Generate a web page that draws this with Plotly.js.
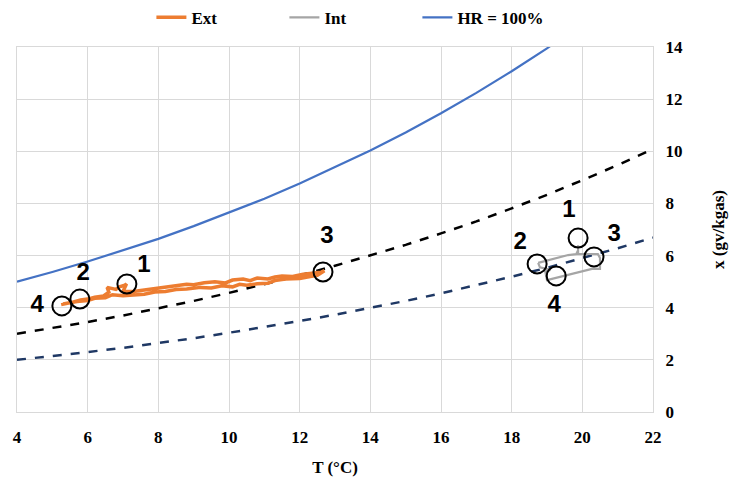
<!DOCTYPE html>
<html>
<head>
<meta charset="utf-8">
<script src="https://cdn.plot.ly/plotly-3.0.1.min.js"></script>
<style>html,body{margin:0;padding:0;background:#fff}#chart{width:734px;height:481px}</style>
</head>
<body>
<div id="chart"></div>
<script>
// Curves (temperature in °C, humidity ratio in g/kg)
const T_CURVE = [4,5,6,7,8,9,10,11,12,13,14,15,16,17,18,19,20,21,22];
const HR100 = [5.00,5.37,5.77,6.19,6.64,7.13,7.64,8.18,8.76,9.38,10.03,10.72,11.46,12.24,13.07,13.95,14.88,15.86,16.90];
const HR60  = [3.00,3.22,3.45,3.70,3.97,4.26,4.57,4.90,5.24,5.61,6.00,6.41,6.85,7.31,7.81,8.33,8.89,9.47,10.09];
const HR40  = [2.00,2.14,2.30,2.46,2.64,2.83,3.04,3.26,3.49,3.73,3.99,4.26,4.55,4.86,5.19,5.53,5.90,6.28,6.69];

// Exterior conditions path
const EXT_T = [5.25,5.45,5.6,5.8,6.0,6.2,6.45,6.6,6.55,6.8,6.9,7.05,7.1,7.0,7.3,7.5,7.7,7.9,8.2,8.5,8.8,9.0,9.3,9.6,9.9,10.1,10.4,10.6,10.8,11.1,11.3,11.5,11.8,12.1,12.4,12.6,12.7,12.5,12.3,12.0,11.6,11.3,11.1,10.8,10.5,10.3,10.1,9.8,9.5,9.2,8.8,8.5,8.2,7.9,7.6,7.3,7.0,6.7,6.5,6.2,6.0,5.7,5.5,5.3];
const EXT_X = [4.12,4.16,4.22,4.30,4.33,4.40,4.45,4.60,4.78,4.70,4.80,4.86,4.92,4.62,4.62,4.66,4.70,4.74,4.80,4.84,4.90,4.88,4.96,5.00,4.95,5.06,5.10,5.04,5.14,5.10,5.18,5.22,5.20,5.28,5.34,5.36,5.42,5.24,5.20,5.12,5.10,5.04,4.94,4.92,4.86,4.90,4.80,4.84,4.76,4.78,4.72,4.70,4.62,4.60,4.52,4.50,4.46,4.50,4.38,4.36,4.28,4.24,4.20,4.14];

// Interior conditions path
const INT_T = [18.75,19.20,19.60,19.83,19.88,19.88,19.88,20.20,20.44,20.50,20.50,20.30,19.80,19.23,19.00,18.95,19.10,18.80,18.75];
const INT_X = [5.72,5.88,6.02,6.06,6.21,6.40,6.06,6.06,6.06,5.91,5.49,5.50,5.34,5.14,5.06,5.40,5.45,5.55,5.72];

// Marked points 1..4
const PT_LABELS = ["1","2","3","4"];
const EXT_PT_T = [7.11,5.78,12.66,5.27];
const EXT_PT_X = [4.91,4.33,5.37,4.07];
const EXT_LBL_T = [7.59,5.87,12.77,4.57];
const EXT_LBL_X = [5.60,5.30,6.70,4.07];
const INT_PT_T = [19.88,18.72,20.33,19.26];
const INT_PT_X = [6.67,5.68,5.95,5.22];
const INT_LBL_T = [19.62,18.24,20.90,19.20];
const INT_LBL_X = [7.70,6.50,6.78,4.06];

const serif = {family:"Liberation Serif, Times New Roman, serif", size:17, color:"#000", weight:"bold"};
const labelFont = {family:"Liberation Sans, Arial, sans-serif", size:24, color:"#000", weight:"bold"};

const traces = [
  {x:T_CURVE, y:HR60, mode:"lines", line:{color:"#000000", width:2.5, dash:"dash"}, showlegend:false, hoverinfo:"skip"},
  {x:T_CURVE, y:HR40, mode:"lines", line:{color:"#1F3864", width:2.5, dash:"dash"}, showlegend:false, hoverinfo:"skip"},
  {x:EXT_T, y:EXT_X, mode:"lines", name:"Ext", line:{color:"#ED7D31", width:3.5}},
  {x:INT_T, y:INT_X, mode:"lines", name:"Int", line:{color:"#A5A5A5", width:2.2}},
  {x:T_CURVE, y:HR100, mode:"lines", name:"HR = 100%", line:{color:"#4472C4", width:2.2}},
  {x:EXT_PT_T, y:EXT_PT_X, mode:"markers", showlegend:false, marker:{symbol:"circle-open", size:19, color:"#000", line:{width:2, color:"#000"}}},
  {x:INT_PT_T, y:INT_PT_X, mode:"markers", showlegend:false, marker:{symbol:"circle-open", size:19, color:"#000", line:{width:2, color:"#000"}}},
  {x:EXT_LBL_T, y:EXT_LBL_X, mode:"text", text:PT_LABELS, textfont:labelFont, showlegend:false, cliponaxis:false},
  {x:INT_LBL_T, y:INT_LBL_X, mode:"text", text:PT_LABELS, textfont:labelFont, showlegend:false, cliponaxis:false}
];

const layout = {
  width:734, height:481,
  margin:{l:17, r:81, t:47, b:69, autoexpand:false},
  paper_bgcolor:"#fff", plot_bgcolor:"#fff",
  showlegend:true,
  legend:{orientation:"h", x:0.525, xanchor:"center", y:1.08, yanchor:"middle",
          font:serif, entrywidth:88, entrywidthmode:"pixels", traceorder:"normal"},
  xaxis:{range:[4,22], dtick:2, tick0:4, showgrid:true, gridcolor:"#D9D9D9", gridwidth:1,
         showline:true, mirror:true, linecolor:"#D9D9D9", linewidth:1, zeroline:false,
         ticks:"", tickfont:serif, ticklabelstandoff:10,
         title:{text:"T (°C)", font:serif, standoff:14}},
  yaxis:{range:[0,14], dtick:2, side:"right", showgrid:true, gridcolor:"#D9D9D9", gridwidth:1,
         showline:true, mirror:true, linecolor:"#D9D9D9", linewidth:1, zeroline:false,
         ticks:"", tickfont:serif, ticklabelstandoff:8,
         title:{text:"x (gv/kgas)", font:serif, standoff:30}}
};

Plotly.newPlot("chart", traces, layout, {displayModeBar:false, staticPlot:true});
</script>
</body>
</html>
